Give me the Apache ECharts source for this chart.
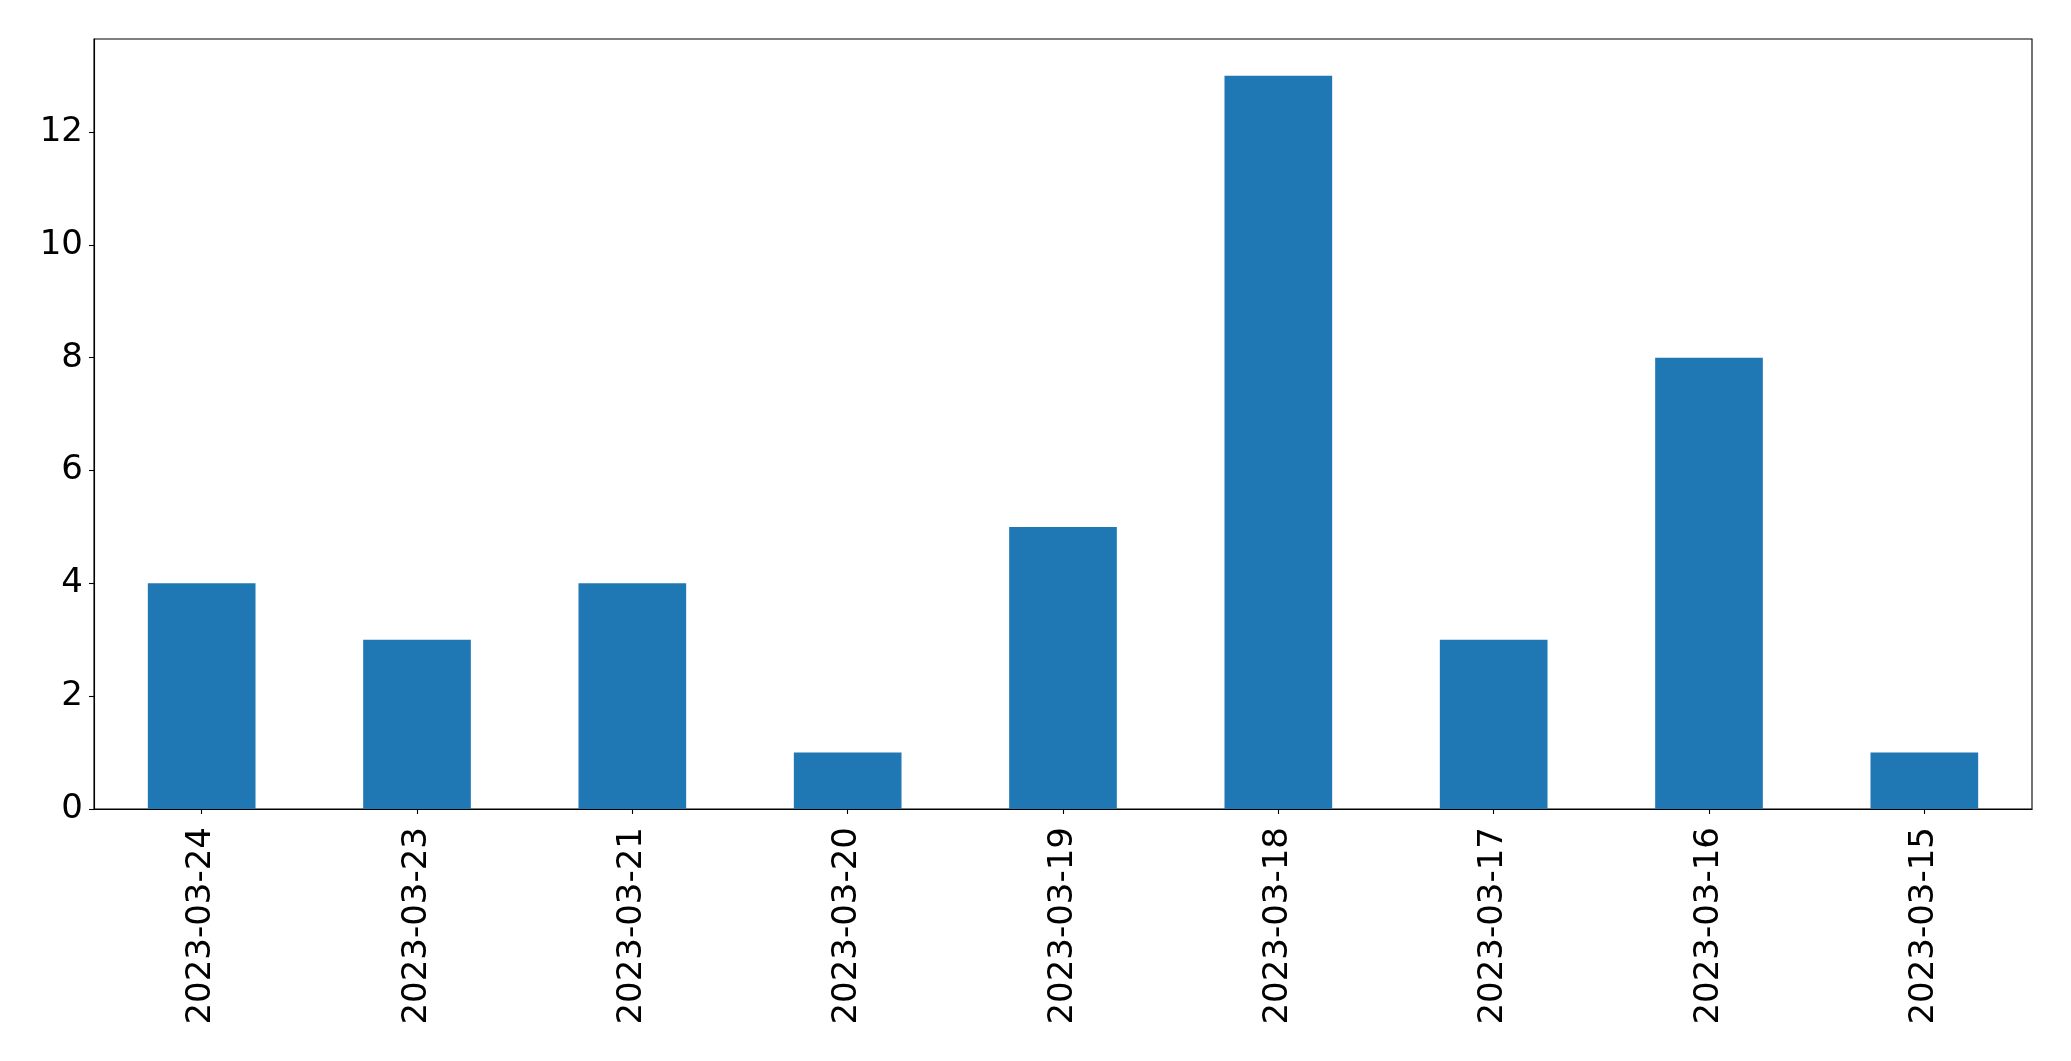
<!DOCTYPE html>
<html>
<head>
<meta charset="utf-8">
<script src="https://cdn.jsdelivr.net/npm/echarts@6/dist/echarts.min.js"></script>
<style>html,body{margin:0;padding:0;background:#fff;}#c{width:2071px;height:1061px;}</style>
</head>
<body>
<div id="c"></div>
<script>
const categories = ['2023-03-24','2023-03-23','2023-03-21','2023-03-20','2023-03-19','2023-03-18','2023-03-17','2023-03-16','2023-03-15'];
const values = [4, 3, 4, 1, 5, 13, 3, 8, 1];
const yTicks = [0, 2, 4, 6, 8, 10, 12];

const chart = echarts.init(document.getElementById('c'), null, {renderer: 'canvas'});
const font = 'DejaVu Sans';
chart.setOption({
  animation: false,
  backgroundColor: '#fff',
  grid: {left: 94, right: 39, top: 39, bottom: 252, show: true, borderColor: '#000', borderWidth: 1.1, containLabel: false},
  xAxis: {
    type: 'category',
    data: categories,
    boundaryGap: true,
    axisLine: {show: true, lineStyle: {color: '#000', width: 1.1}},
    axisTick: {show: true, alignWithLabel: true, length: 5, lineStyle: {color: '#000', width: 1.1}},
    axisLabel: {interval: 0, rotate: 90, margin: 18, color: '#000', fontSize: 34, fontFamily: font},
    splitLine: {show: false}
  },
  yAxis: {
    type: 'value',
    min: 0,
    max: 13.65,
    axisLine: {show: true, lineStyle: {color: '#000', width: 1.1}},
    axisTick: {show: true, length: 5, lineStyle: {color: '#000', width: 1.1}, customValues: yTicks},
    axisLabel: {color: '#000', fontSize: 34, fontFamily: font, margin: 11, customValues: yTicks},
    splitLine: {show: false}
  },
  series: [{
    type: 'bar',
    data: values,
    barWidth: '50%',
    itemStyle: {color: '#1f77b4'}
  }]
});
</script>
</body>
</html>
